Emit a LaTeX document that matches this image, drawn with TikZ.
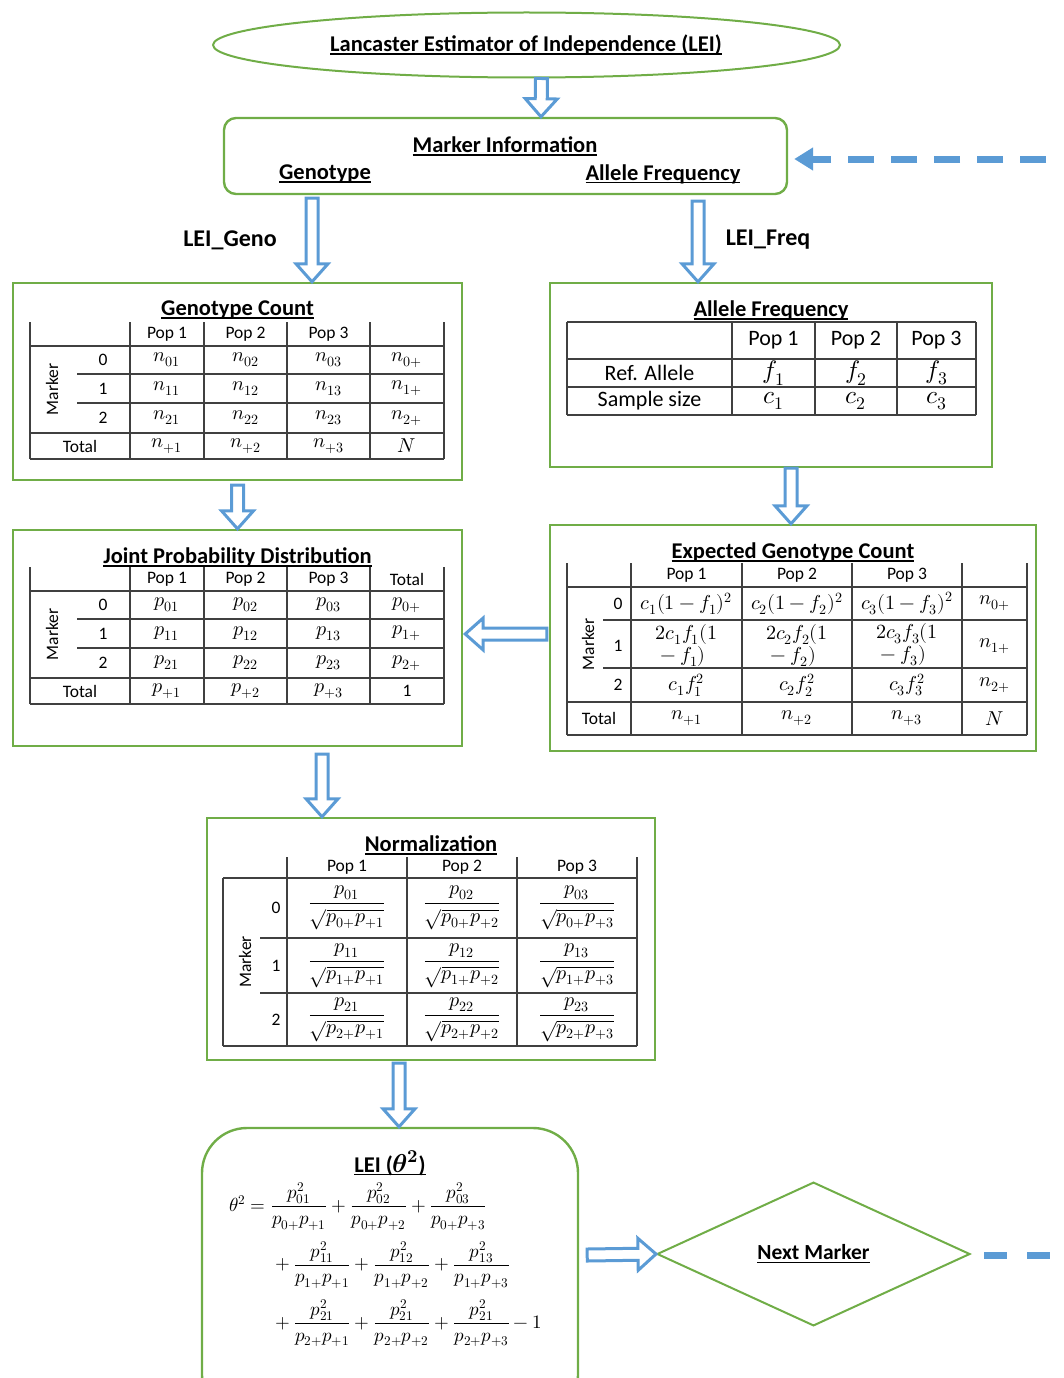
\documentclass[tikz,border=0pt]{standalone}
\usepackage{fontspec}
\usepackage{unicode-math}
\setmainfont{Carlito}
\setmathfont{Latin Modern Math}[Scale=1.15]
\usetikzlibrary{positioning, shapes.geometric, calc, arrows.meta}

\definecolor{boxgreen}{HTML}{70AD47}
\definecolor{arrowblue}{HTML}{5B9BD5}
\definecolor{gridgray}{HTML}{404040}

\newcommand{\hdr}[1]{\setbox0\hbox{#1}\rlap{\rule[-3.2pt]{\wd0}{1.6pt}}\box0}

\tikzset{
  panel/.style={draw=boxgreen, line width=2.4pt, inner sep=0pt},
  heading/.style={font=\fontsize{22.5}{26}\selectfont\bfseries, inner sep=0pt},
  flowlabel/.style={font=\fontsize{24}{28}\selectfont\bfseries, inner sep=0pt},
  cell/.style={font=\fontsize{17.5}{22}\selectfont, inner sep=0pt},
  bigcell/.style={font=\fontsize{22}{26}\selectfont, inner sep=0pt},
  grid/.style={draw=gridgray, line width=1.2pt},
  hollow/.style={draw=arrowblue, fill=white, line width=3pt, line join=miter},
  dashlink/.style={draw=arrowblue, line width=7pt, dash pattern=on 26pt off 17pt}
}

\newcommand{\hollowarrow}[2]{
  \coordinate (ha) at (#1);
  \coordinate (hb) at (#2);
  \coordinate (hh) at ($(hb)!18pt!(ha)$);
  \draw[hollow] ($(ha)!6pt!90:(hb)$) -- ($(hh)!6pt!-90:(ha)$) -- ($(hh)!16pt!-90:(ha)$)
    -- (hb) -- ($(hh)!16pt!90:(ha)$) -- ($(hh)!6pt!90:(ha)$) -- ($(ha)!6pt!-90:(hb)$) -- cycle;
}

\newcommand{\counttable}[5]{
  \foreach \x in {30,130,204,287,370,444} \draw[grid] (\x,#2) -- (\x,#2+137);
  \foreach \y in {24,111,137} \draw[grid] (30,#2+\y) -- (444,#2+\y);
  \foreach \y in {52,81} \draw[grid] (77,#2+\y) -- (444,#2+\y);
  \foreach \col/\x in {1/167,2/245.5,3/328.5} {
    \node[cell] (#1_h\col) at (\x,#2+12) {Pop \col};
    \foreach \row/\y in {0/38,1/66.5,2/96}
      \node[cell] (#1_\row\col) at (\x,#2+\y) {$#3_{\row\col}$};
    \node[cell] (#1_t\col) at (\x,#2+124) {$#3_{+\col}$};
  }
  \foreach \row/\y in {0/38,1/66.5,2/96} {
    \node[cell] (#1_m\row) at (103,#2+\y) {\row};
    \node[cell] (#1_\row t) at (407,#2+\y) {$#3_{\row+}$};
  }
  \node[cell] (#1_ht) at (407,#2+12) {#4};
  \node[cell] (#1_tt) at (407,#2+124) {#5};
  \node[cell] (#1_tot) at (80,#2+124) {Total};
  \node[cell, rotate=90] (#1_mk) at (52,#2+67.5) {Marker};
}

\begin{document}
\begin{tikzpicture}[x=1pt, y=-1pt, on grid, node distance=19pt]
  \path[use as bounding box, clip] (0,0) rectangle (1063,1378);

  \node[ellipse, draw=boxgreen, line width=2pt, minimum width=627, minimum height=65] (lei_oval) at (526.5,45) {};
  \node[heading] (lei_title) at (526,45) {\hdr{Lancaster Estimator of Independence (LEI)}};

  \node[panel, rounded corners=12pt, minimum width=563, minimum height=76] (mark_info) at (505.5,156) {};
  \node[heading] (mi_title) at (505,146) {\hdr{Marker Information}};
  \node[heading] (geno) at (325,174) {\hdr{Genotype}};
  \node[heading] (freq) at (663,174) {\hdr{Allele Frequency}};

  \node[flowlabel] (lbl_geno) at (230,240) {LEI\_Geno};
  \node[flowlabel] (lbl_freq) at (768,240) {LEI\_Freq};

  \node[panel, minimum width=449, minimum height=197] (geno_count) at (237.5,381.5) {};
  \node[heading] (gc_title) [below=of geno_count.north] {\hdr{Genotype Count}};
  \counttable{gc}{322}{n}{}{$N$}

  \node[panel, minimum width=442, minimum height=184] (allele_freq) at (771,375) {};
  \node[heading] (af_title) [below=of allele_freq.north] {\hdr{Allele Frequency}};
  \foreach \x in {567,732,815,897,976} \draw[grid] (\x,322) -- (\x,415);
  \foreach \y in {322,359,387,415} \draw[grid] (567,\y) -- (976,\y);
  \node[bigcell] (af_r1) at (649.5,373) {Ref. Allele};
  \node[bigcell] (af_r2) at (649.5,401) {Sample size};
  \foreach \col/\x in {1/773.5,2/856,3/936.5} {
    \node[bigcell] (af_h\col) at (\x,340.5) {Pop \col};
    \node[bigcell] (af_f\col) at (\x,373) {$f_\col$};
    \node[bigcell] (af_c\col) at (\x,401) {$c_\col$};
  }

  \node[panel, minimum width=449, minimum height=216] (joint_prob) at (237.5,638) {};
  \node[heading] (jp_title) [below=of joint_prob.north] {\hdr{Joint Probability Distribution}};
  \counttable{jp}{567}{p}{Total}{1}

  \node[panel, minimum width=486, minimum height=226] (exp_count) at (793,638) {};
  \node[heading] (ec_title) [below=of exp_count.north] {\hdr{Expected Genotype Count}};
  \foreach \x in {567,631,742,852,962,1027} \draw[grid] (\x,563) -- (\x,735);
  \foreach \y in {587,702,735} \draw[grid] (567,\y) -- (1027,\y);
  \foreach \y in {620,668} \draw[grid] (603,\y) -- (1027,\y);
  \foreach \col/\x in {1/686.5,2/797,3/907} {
    \node[cell] (ec_h\col) at (\x,575) {Pop \col};
    \node[cell] (ec_0\col) at (\x,603.5) {$c_\col(1-f_\col)^2$};
    \node[cell, align=left] (ec_1\col) at (\x,645) {$2c_\col f_\col(1$\\${}-f_\col)$};
    \node[cell] (ec_2\col) at (\x,685) {$c_\col f_\col^2$};
    \node[cell] (ec_t\col) at (\x,718.5) {$n_{+\col}$};
  }
  \foreach \row/\y in {0/603.5,1/646,2/685} {
    \node[cell] (ec_m\row) at (618,\y) {\row};
    \node[cell] (ec_\row t) at (994.5,\y) {$n_{\row+}$};
  }
  \node[cell] (ec_tt) at (994.5,718.5) {$N$};
  \node[cell] (ec_tot) at (599,718.5) {Total};
  \node[cell, rotate=90] (ec_mk) at (588,644.5) {Marker};

  \node[panel, minimum width=448, minimum height=242] (norm) at (431,939) {};
  \node[heading] (nz_title) [below=of norm.north] {\hdr{Normalization}};
  \foreach \x in {287,407,517,637} \draw[grid] (\x,857) -- (\x,1046);
  \draw[grid] (223,878) -- (223,1046);
  \foreach \y in {878,1046} \draw[grid] (223,\y) -- (637,\y);
  \foreach \y in {938,993} \draw[grid] (260,\y) -- (637,\y);
  \foreach \col/\x in {1/347,2/462,3/577} {
    \node[cell] (nz_h\col) at (\x,867.5) {Pop \col};
    \foreach \row/\y in {0/908,1/965.5,2/1019.5}
      \node[cell] (nz_\row\col) at (\x,\y) {$\dfrac{p_{\row\col}}{\sqrt{p_{\row+}p_{+\col}}}$};
  }
  \foreach \row/\y in {0/908,1/965.5,2/1019.5}
    \node[cell] (nz_m\row) at (276,\y) {\row};
  \node[cell, rotate=90] (nz_mk) at (245,962) {Marker};

  \node[panel, rounded corners=45pt, minimum width=376, minimum height=292] (lei) at (390,1274) {};
  \node[heading] (lei_head) [below=24pt of lei.north] {\hdr{LEI ($\symbfit{\theta}^{\symbf{2}}$)}};
  \node[font=\fontsize{16.5}{20}\selectfont, anchor=west, inner sep=0pt] (lei_eq) at (229,1265) {$\begin{aligned}
    \theta^2 ={}& \frac{p_{01}^2}{p_{0+}p_{+1}} + \frac{p_{02}^2}{p_{0+}p_{+2}} + \frac{p_{03}^2}{p_{0+}p_{+3}}\\[7pt]
    &+\frac{p_{11}^2}{p_{1+}p_{+1}} + \frac{p_{12}^2}{p_{1+}p_{+2}} + \frac{p_{13}^2}{p_{1+}p_{+3}}\\[7pt]
    &+\frac{p_{21}^2}{p_{2+}p_{+1}} + \frac{p_{21}^2}{p_{2+}p_{+2}} + \frac{p_{21}^2}{p_{2+}p_{+3}} - 1
  \end{aligned}$};

  \node[diamond, draw=boxgreen, line width=2pt, minimum width=313, minimum height=88,
    font=\fontsize{21.5}{25}\selectfont\bfseries] (next_mark) at (813.5,1254) {\hdr{Next Marker}};

  \hollowarrow{[xshift=15pt]lei_oval.south}{[xshift=35.5pt]mark_info.north}
  \hollowarrow{[xshift=-193.5pt,yshift=-3pt]mark_info.south}{[xshift=74.5pt]geno_count.north}
  \hollowarrow{[xshift=192.5pt,yshift=-6pt]mark_info.south}{[xshift=-73pt]allele_freq.north}
  \hollowarrow{[xshift=20pt]allele_freq.south}{[xshift=-2pt]exp_count.north}
  \hollowarrow{[yshift=-4pt]geno_count.south}{joint_prob.north}
  \hollowarrow{[yshift=4pt,xshift=-2pt]exp_count.west}{[yshift=4pt,xshift=2pt]joint_prob.east}
  \hollowarrow{[xshift=84.5pt,yshift=-7pt]joint_prob.south}{[xshift=-109pt]norm.north}
  \hollowarrow{[xshift=-32pt,yshift=-2pt]norm.south}{[xshift=9pt]lei.north}
  \hollowarrow{[yshift=19pt,xshift=8pt]lei.east}{next_mark.west}

  \coordinate (feedback) at (1046,159);
  \draw[dashlink, -{Triangle[length=19pt,width=22pt]}, shorten >=6pt] (feedback) -- ([yshift=-3pt]mark_info.east);
  \coordinate (loop_end) at (1063,1255);
  \draw[dashlink, dash pattern=on 23pt off 20pt, shorten <=13pt] ([yshift=-1pt]next_mark.east) -- (loop_end);
\end{tikzpicture}
\end{document}
